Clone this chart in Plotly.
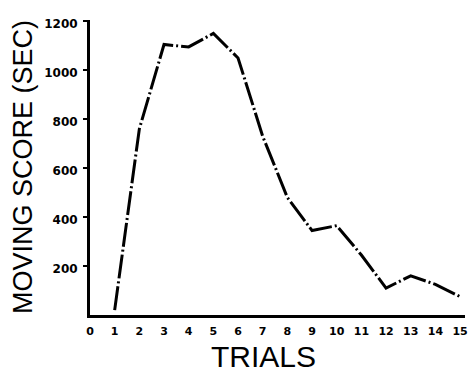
import plotly.graph_objects as go

trials = [1, 2, 3, 4, 5, 6, 7, 8, 9, 10, 11, 12, 13, 14, 15]
moving_score = [20, 760, 1105, 1095, 1150, 1050, 730, 480, 345, 365, 245, 110, 160, 125, 75]

x_tick_vals = list(range(0, 16))
x_tick_text = ["0", "1", "2", "3", "4", "5", "6", "7", "8", "9", "10", "11", "12", "13", "14", "15"]
y_tick_vals = [200, 400, 600, 800, 1000, 1200]
y_tick_text = ["200", "400", "600", "800", "1000", "1200"]

fig = go.Figure()
fig.add_trace(go.Scatter(
    x=trials, y=moving_score, mode="lines",
    line=dict(color="black", width=3, dash="24px,3px,2px,3px"),
    showlegend=False, hoverinfo="skip",
))

tick_font = dict(family="DejaVu Sans", size=12, color="black", weight="bold")

fig.update_layout(
    width=471, height=372,
    margin=dict(l=90, r=3, t=20, b=57),
    paper_bgcolor="white", plot_bgcolor="white",
    xaxis=dict(
        range=[0, 15.2], tickmode="array", tickvals=x_tick_vals, ticktext=x_tick_text,
        showgrid=False, zeroline=False, showline=True, linecolor="black", linewidth=3,
        ticks="", tickfont=dict(family="DejaVu Sans", size=11, color="black", weight="bold"),
        ticklabelstandoff=4, ticklabeloverflow="allow",
    ),
    yaxis=dict(
        range=[0, 1205], tickmode="array", tickvals=y_tick_vals, ticktext=y_tick_text,
        showgrid=False, zeroline=False, showline=True, linecolor="black", linewidth=3,
        ticks="outside", ticklen=4, tickwidth=2, tickcolor="black",
        tickfont=tick_font, ticklabelstandoff=3, ticklabelshift=3,
    ),
    annotations=[
        dict(text="MOVING SCORE (SEC)", textangle=-90, xref="paper", yref="paper",
             x=-0.18, y=0.50, showarrow=False, xanchor="center", yanchor="middle",
             font=dict(family="Liberation Sans", size=27, color="black")),
        dict(text="TRIALS", xref="paper", yref="paper",
             x=0.463, y=-0.14, showarrow=False, xanchor="center", yanchor="middle",
             font=dict(family="Liberation Sans", size=30, color="black")),
    ],
)

fig.write_html("out.html", config={"displayModeBar": False},
               post_script="document.body.style.margin='0px';document.body.style.overflow='hidden';")
